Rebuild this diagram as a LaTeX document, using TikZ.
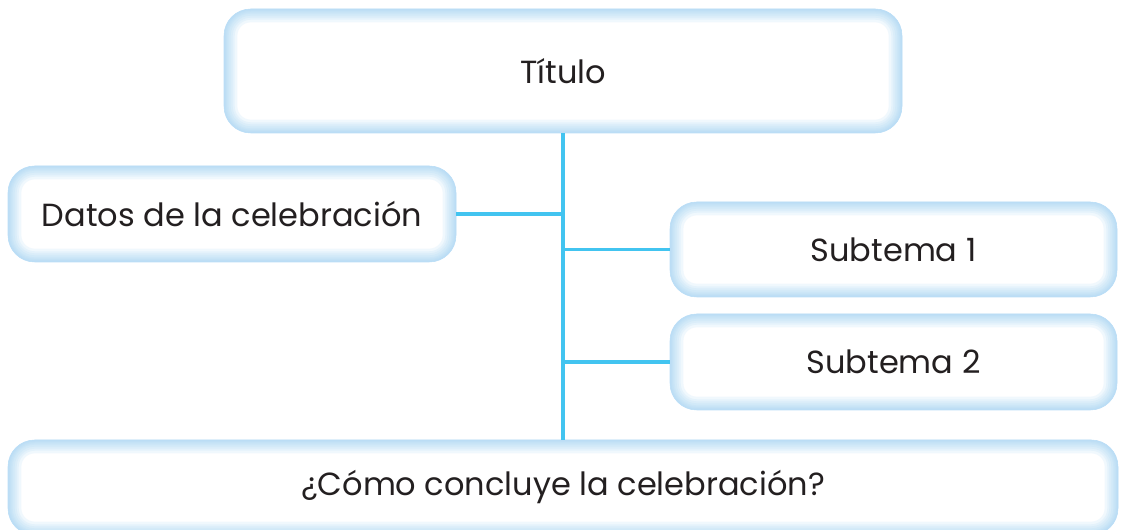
\documentclass[tikz,border=0pt]{standalone}
\usepackage{fontspec}
\setmainfont{Poppins}
\usepackage{tikz}
\usetikzlibrary{positioning,calc}

\definecolor{glow}{RGB}{170,214,245}
\definecolor{linkblue}{RGB}{66,196,240}
\definecolor{ink}{RGB}{35,31,32}

\begin{document}
\begin{tikzpicture}[
    x=0.75pt, y=-0.75pt,
    glowbox/.style={rectangle, rounded corners=20pt, fill=white, draw=glow!80, line width=0.4pt,
        inner sep=0pt, text=ink, font=\fontsize{24}{28}\selectfont,
        path picture={
            \foreach \w in {20,16,13,10,7,5,3,1.5}
                \draw[glow, opacity=0.17, line width=\w pt, rounded corners=20pt]
                    (path picture bounding box.south west) rectangle (path picture bounding box.north east);
        }},
    link/.style={draw=linkblue, line width=2.3pt}
]

\useasboundingbox (0,0) rectangle (1121,530);

% Boxes
\node[glowbox, minimum width=508.5pt, minimum height=93pt] (titulo) at (563,71) {Título};
\node[glowbox, minimum width=336pt, minimum height=72pt] (datos) at (232,214) {Datos de la celebración};
\node[glowbox, minimum width=335.25pt, minimum height=71.25pt] (sub1) at (893.5,249.5) {Subtema 1};
\node[glowbox, minimum width=335.25pt, minimum height=72pt] (sub2) at (893.5,362) {Subtema 2};
\node[glowbox, minimum width=832.5pt, minimum height=71.25pt] (cierre) at (563,487.5) {¿Cómo concluye la celebración?};

% Connectors
\draw[link] (titulo.south) -- (cierre.north);
\draw[link] (datos.east) -- (datos.east -| titulo.south);
\draw[link] (sub1.west -| titulo.south) -- (sub1.west);
\draw[link] (sub2.west -| titulo.south) -- (sub2.west);

\end{tikzpicture}
\end{document}
